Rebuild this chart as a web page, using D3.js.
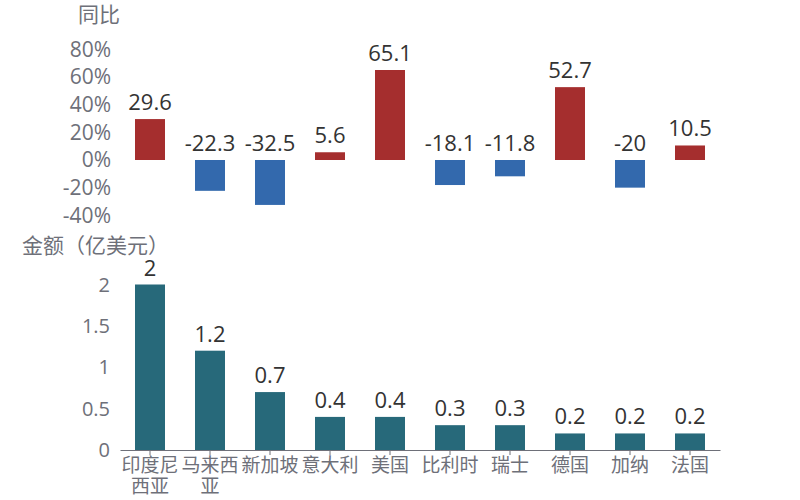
<!DOCTYPE html>
<html>
<head>
<meta charset="utf-8">
<script src="https://cdn.jsdelivr.net/npm/d3@7"></script>
<style>
  body { margin: 0; background: #fff; }
  text { font-family: "Open Sans", "Noto Sans CJK SC", sans-serif; }
</style>
</head>
<body>
<script>
const countries = ['印度尼西亚', '马来西亚', '新加坡', '意大利', '美国', '比利时', '瑞士', '德国', '加纳', '法国'];
const yoy = [29.6, -22.3, -32.5, 5.6, 65.1, -18.1, -11.8, 52.7, -20, 10.5];
const amount = [2, 1.2, 0.7, 0.4, 0.4, 0.3, 0.3, 0.2, 0.2, 0.2];
const yoyTicks = [-40, -20, 0, 20, 40, 60, 80];
const amountTicks = [0, 0.5, 1, 1.5, 2];

const width = 800, height = 500;
const axisGrey = '#6e7079';
const labelDark = '#333';

const svg = d3.select('body').append('svg')
  .attr('width', width).attr('height', height);

const x = d3.scaleBand().domain(countries).range([120, 720]);
const barW = 30;

// ---- top: year on year ----
const yTop = d3.scaleLinear().domain([-40, 80]).range([215.3, 49.4]);

svg.append('text').attr('x', 78).attr('y', 22)
  .attr('font-size', 21).attr('fill', axisGrey).text('同比');

svg.append('g').selectAll('text').data(yoyTicks).join('text')
  .attr('x', 111).attr('y', d => yTop(d))
  .attr('dy', '0.35em').attr('text-anchor', 'end')
  .attr('font-size', 21).attr('fill', axisGrey)
  .text(d => d + '%');

svg.append('g').selectAll('rect').data(yoy).join('rect')
  .attr('x', (d, i) => x(countries[i]) + (x.bandwidth() - barW) / 2)
  .attr('width', barW)
  .attr('y', d => yTop(Math.max(0, d)))
  .attr('height', d => Math.abs(yTop(d) - yTop(0)))
  .attr('fill', d => d >= 0 ? '#a52e2e' : '#3369ad');

svg.append('g').selectAll('text').data(yoy).join('text')
  .attr('x', (d, i) => x(countries[i]) + x.bandwidth() / 2)
  .attr('y', d => yTop(Math.max(0, d)) - 9)
  .attr('text-anchor', 'middle')
  .attr('font-size', 22).attr('fill', labelDark)
  .text(d => d);

// ---- bottom: amount ----
const yBot = d3.scaleLinear().domain([0, 2]).range([450, 284.5]);

svg.append('text').attr('x', 22).attr('y', 253)
  .attr('font-size', 21).attr('fill', axisGrey).text('金额（亿美元）');

svg.append('g').selectAll('text').data(amountTicks).join('text')
  .attr('x', 110).attr('y', d => yBot(d))
  .attr('dy', '0.35em').attr('text-anchor', 'end')
  .attr('font-size', 20).attr('fill', axisGrey)
  .text(d => d);

svg.append('g').selectAll('rect').data(amount).join('rect')
  .attr('x', (d, i) => x(countries[i]) + (x.bandwidth() - barW) / 2)
  .attr('width', barW)
  .attr('y', d => yBot(d))
  .attr('height', d => yBot(0) - yBot(d))
  .attr('fill', '#27697a');

svg.append('g').selectAll('text').data(amount).join('text')
  .attr('x', (d, i) => x(countries[i]) + x.bandwidth() / 2)
  .attr('y', d => yBot(d) - 9)
  .attr('text-anchor', 'middle')
  .attr('font-size', 22).attr('fill', labelDark)
  .text(d => d);

// x axis
const xAxis = svg.append('g')
  .attr('transform', `translate(0,${yBot(0)})`)
  .call(d3.axisBottom(x).tickSize(5).tickSizeOuter(0));
xAxis.select('.domain').attr('stroke', axisGrey);
xAxis.selectAll('.tick line').attr('stroke', axisGrey);
xAxis.selectAll('.tick text').remove();

// wrapped category labels, 3 chars per line
const lines = [];
countries.forEach(c => {
  for (let i = 0; i < c.length; i += 3) {
    lines.push({ c: c, row: i / 3, t: c.slice(i, i + 3) });
  }
});
svg.append('g').selectAll('text').data(lines).join('text')
  .attr('x', d => x(d.c) + x.bandwidth() / 2)
  .attr('y', d => yBot(0) + 22 + d.row * 21)
  .attr('text-anchor', 'middle')
  .attr('font-size', 19).attr('fill', axisGrey)
  .text(d => d.t);
</script>
</body>
</html>
